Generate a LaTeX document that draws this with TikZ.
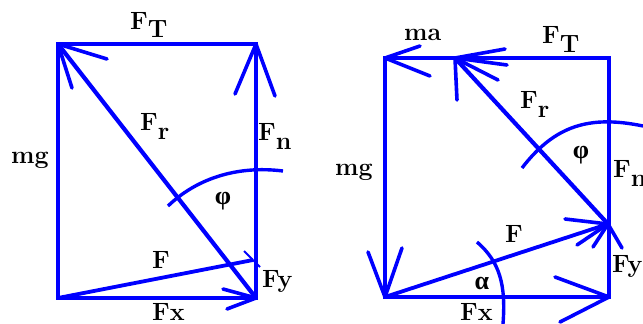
\documentclass[tikz,border=0pt]{standalone}
\usepackage{fontspec}
\newfontfamily\greekfont{Liberation Serif}
\begin{document}
\definecolor{vblue}{RGB}{0,0,255}
\tikzset{
  edge/.style={vblue, line width=4.2pt},
  vecline/.style={vblue, line width=3.8pt},
  barb/.style={vblue, line width=3.6pt, line cap=round},
  thinbarb/.style={vblue, line width=2pt},
  arcline/.style={vblue, line width=3.4pt},
  lbl/.style={inner sep=0pt, anchor=base west, text=black, font=\fontsize{25}{27}\selectfont\bfseries},
  sym/.style={inner sep=0pt, text=black, font=\fontsize{26}{28}\selectfont\greekfont\bfseries},
}
\newcommand{\lowsub}[1]{\raisebox{-9pt}{#1}}
\begin{tikzpicture}[x=1pt,y=-1pt]
\useasboundingbox (0,0) rectangle (643,324);
% ---------- left diagram ----------
\coordinate (A) at (58,44);
\coordinate (B) at (256,44);
\coordinate (C) at (256,298);
\coordinate (D) at (58,298);
\coordinate (Ftip) at (253,260);
\coordinate (phiLs) at (168,206);
\coordinate (phiLe) at (283,171);
\draw[edge] (A) -- (B) -- (C) -- (D) -- cycle;
\draw[edge] (C) -- (A);
\draw[vecline] (D) -- (Ftip);
\draw[barb] (A) -- ++(14,44);
\draw[barb] (A) -- ++(49,15);
\draw[barb] (B) -- ++(-21,50);
\draw[barb] (B) -- ++(19,52);
\draw[barb] (C) -- ++(-33,-9);
\draw[barb] (C) -- ++(-29,11);
\draw[thinbarb] (Ftip) -- ++(-9,-9);
\draw[thinbarb] (Ftip) -- ++(7,7);
\draw[arcline] (phiLs) .. controls (195,180) and (235,165) .. (phiLe);
\node[lbl] (lFT) at (130,29) {F\lowsub{T}};
\node[lbl] (lFr) at (140,130) {F\lowsub{r}};
\node[lbl] (lFn) at (258,140) {F\lowsub{n}};
\node[lbl] (lmg) at (11,163) {mg};
\node[sym] (lphi) at (223,201) {φ};
\node[lbl] (lF) at (152,268) {F};
\node[lbl] (lFy) at (262,287) {Fy};
\node[lbl] (lFx) at (152,320) {Fx};
% ---------- right diagram ----------
\coordinate (E) at (385,58);
\coordinate (G) at (609,58);
\coordinate (H) at (609,297);
\coordinate (K) at (385,297);
\coordinate (P) at (455,58);
\coordinate (Q) at (608,224);
\coordinate (phiRs) at (522,168);
\coordinate (phiRe) at (643,126);
\coordinate (alRs) at (477,242);
\coordinate (alRe) at (503,324);
\draw[edge] (E) -- (G) -- (H) -- (K) -- cycle;
\draw[edge] (Q) -- (P);
\draw[vecline] (K) -- (Q);
\draw[barb] (E) -- ++(35,-12);
\draw[barb] (E) -- ++(45,18);
\draw[barb] (P) -- ++(50,-9);
\draw[barb] (P) -- ++(52,7);
\draw[barb] (P) -- ++(43,22);
\draw[barb] (P) -- ++(2,42);
\draw[barb] (K) -- ++(-17,-45);
\draw[barb] (K) -- ++(17,-49);
\draw[barb] (Q) -- ++(-43,-5);
\draw[barb] (Q) -- ++(-31,21);
\draw[barb] (Q) -- ++(-15,23);
\draw[barb] (Q) -- ++(14,24);
\draw[barb] (H) -- ++(-54,-20);
\draw[barb] (H) -- ++(-49,25);
\draw[arcline] (phiRs) .. controls (555,125) and (590,115) .. (phiRe);
\draw[arcline] (alRs) .. controls (500,262) and (506,285) .. (alRe);
\node[lbl] (rma) at (404,40) {ma};
\node[lbl] (rFT) at (542,43) {F\lowsub{T}};
\node[lbl] (rFr) at (520,108) {F\lowsub{r}};
\node[sym] (rphi) at (581,155) {φ};
\node[lbl] (rFn) at (613,177) {F\lowsub{n}};
\node[lbl] (rmg) at (335,175) {mg};
\node[lbl] (rF) at (505,242) {F};
\node[sym] (ral) at (482,283) {α};
\node[lbl] (rFy) at (612,272) {Fy};
\node[lbl] (rFx) at (460,320) {Fx};
\end{tikzpicture}
\end{document}
